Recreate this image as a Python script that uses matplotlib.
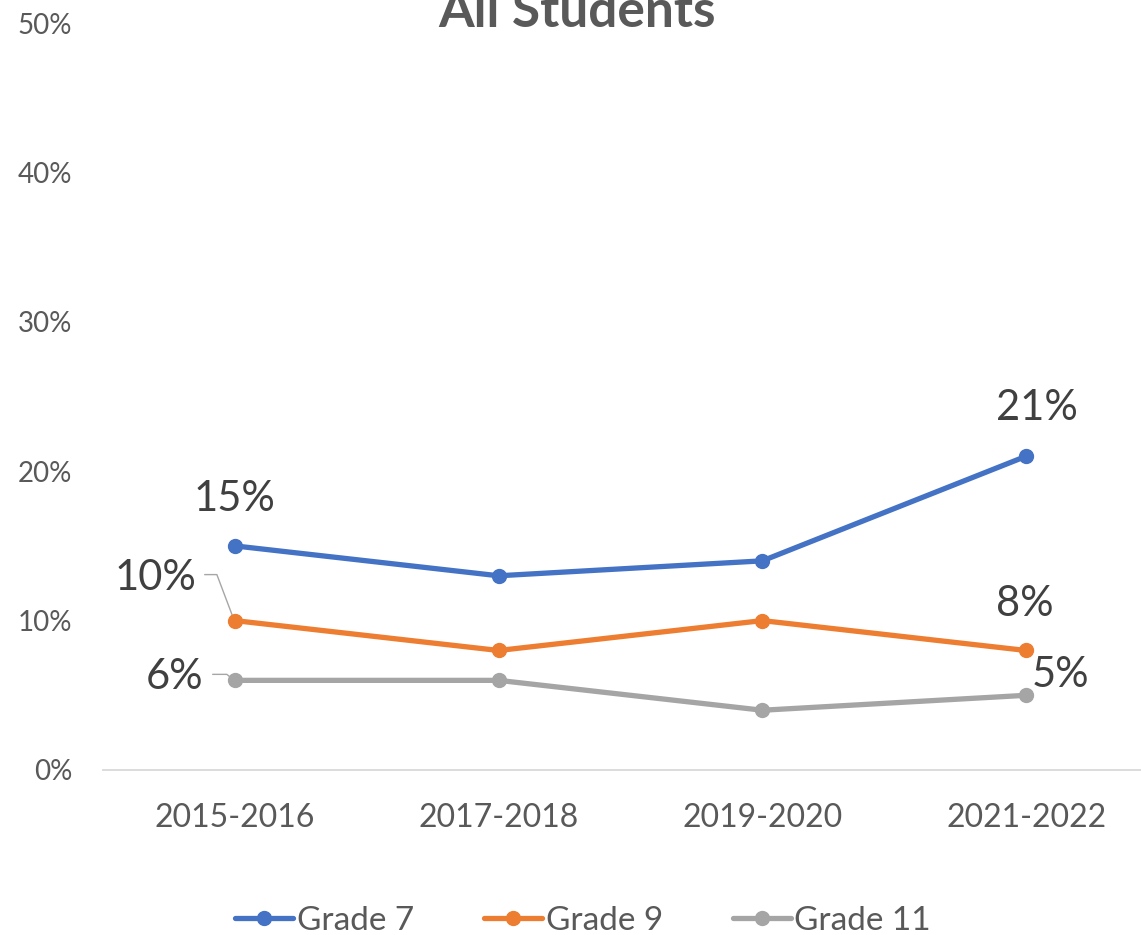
import matplotlib
matplotlib.use('Agg')
import matplotlib.pyplot as plt
from matplotlib.ticker import FuncFormatter

plt.rcParams['font.family'] = ['Lato', 'DejaVu Sans']

# ---- data ----
years = ['2015-2016', '2017-2018', '2019-2020', '2021-2022']
grade7 = [15, 13, 14, 21]
grade9 = [10, 8, 10, 8]
grade11 = [6, 6, 4, 5]
yticks = [0, 10, 20, 30, 40, 50]

blue, orange, gray = '#4472C4', '#ED7D31', '#A5A5A5'
txt = '#595959'
lbl = '#404040'

fig = plt.figure(figsize=(11.41, 9.35), dpi=100)
# axes runs slightly past the right edge of the canvas
ax = fig.add_axes([103/1141, 165/935, 1055/1141, 747/935])

x = list(range(len(years)))
for vals, c, name in [(grade7, blue, 'Grade 7'),
                      (grade9, orange, 'Grade 9'),
                      (grade11, gray, 'Grade 11')]:
    ax.plot(x, vals, '-o', color=c, lw=3.8, ms=10, label=name,
            solid_capstyle='round', clip_on=False)

ax.set_xlim(-0.5, 3.5)
ax.set_ylim(0, 50)
ax.set_yticks(yticks)
ax.yaxis.set_major_formatter(FuncFormatter(lambda v, p: f'{v:.0f}%'))
ax.set_xticks(x)
ax.set_xticklabels(years)
ax.tick_params(axis='y', length=0, pad=22, labelsize=20, labelcolor=txt)
ax.tick_params(axis='x', length=0, pad=24, labelsize=23, labelcolor=txt)
for s in ['top', 'right', 'left']:
    ax.spines[s].set_visible(False)
ax.spines['bottom'].set_color('#D9D9D9')
ax.spines['bottom'].set_linewidth(1.3)

# ---- data labels ----
def put(xi, val, dx, dy, ha='center'):
    ax.annotate(f'{val}%', (xi, val), xytext=(dx, dy), textcoords='offset pixels',
                ha=ha, va='center', fontsize=30, color=lbl)

put(0, grade7[0], 0, 47)
put(3, grade7[3], 11, 48)
put(3, grade9[3], -1, 46)
put(3, grade11[3], 6, 20, ha='left')
put(0, grade9[0], -38, 43, ha='right')
put(0, grade11[0], -31, 3, ha='right')

# leader lines for the two labels pushed left of the first point
tr = ax.transData
def leader(xi, val, pts):
    x0, y0 = tr.transform((xi, val))
    xs = [x0 + p[0] for p in pts]
    ys = [y0 + p[1] for p in pts]
    inv = tr.inverted()
    d = [inv.transform((a, b)) for a, b in zip(xs, ys)]
    ax.plot([q[0] for q in d], [q[1] for q in d], color='#A6A6A6', lw=1.0,
            clip_on=False, zorder=1)

leader(0, grade9[0], [(-30, 46), (-18, 46), (-1, 1)])
leader(0, grade11[0], [(-22, 6), (-8, 6), (-2, 1)])

# ---- title (top partly off canvas) ----
fig.text(577/1141, 1 - 27/935, 'All Students', ha='center', va='baseline',
         fontsize=37, fontweight='bold', color=txt)

fig.legend(loc='center', bbox_to_anchor=(583/1141, 1 - 921/935), ncol=3,
           frameon=False, fontsize=24, handlelength=1.75, handletextpad=0.1,
           columnspacing=2.1, labelcolor=txt)

fig.savefig('out.png', dpi=100)
